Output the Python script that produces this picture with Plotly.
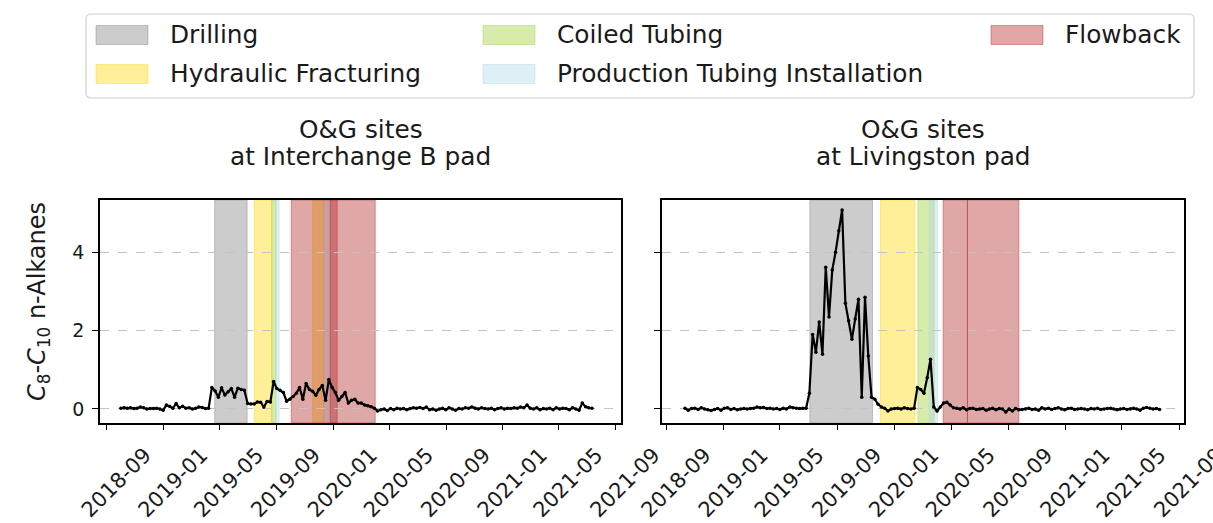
import pandas as pd
import plotly.graph_objects as go

W, H = 1213, 523
FONT = "DejaVu Sans"

# ---- measured series (weekly samples) ----
interchange_start = "2018-10-01"
interchange_vals = [
    0.02, 0.03, 0.02, 0.03, 0.01, 0.02, 0.05, 0.03, 0.0, 0.01,
    0.01, 0.02, 0.0, -0.03, 0.10, 0.07, 0.02, 0.14, 0.03, 0.07,
    0.02, 0.03, 0.0, 0.02, 0.05, 0.04, 0.01, 0.02,
    0.55, 0.46, 0.30, 0.54, 0.36, 0.44, 0.52, 0.30, 0.53, 0.50, 0.48,
    0.14, 0.13, 0.13, 0.18, 0.17, 0.05, 0.19, 0.18,
    0.70, 0.52, 0.48, 0.42, 0.20, 0.25, 0.32, 0.40, 0.55, 0.25,
    0.65, 0.50, 0.45, 0.35, 0.50, 0.60, 0.22, 0.75, 0.55, 0.42,
    0.22, 0.32, 0.42, 0.15, 0.22, 0.25, 0.15, 0.15, 0.10, 0.08,
    0.06, 0.02,
    -0.05, -0.02, 0.0, -0.04, 0.01, -0.02, 0.02, 0.0, 0.01, -0.02,
    0.01, 0.03, 0.02, 0.04, 0.01, 0.05, -0.02, 0.0, -0.03, 0.0,
    0.02, -0.02, 0.03, 0.0, -0.03, 0.01, 0.0, 0.03, 0.02, 0.05,
    0.02, 0.0, 0.03, 0.01, 0.0, 0.02, -0.02, 0.01, 0.03, 0.0,
    0.02, 0.01, 0.03, 0.02, 0.05, 0.03, 0.10, 0.02, 0.0, 0.03,
    -0.02, 0.01, 0.0, 0.02, -0.02, 0.03, 0.0, 0.02, 0.01, -0.02,
    0.03, 0.0, -0.03, 0.15, 0.06, 0.03, 0.02,
]

livingston_start = "2018-10-10"
livingston_vals = [
    0.02, -0.03, 0.01, 0.02, -0.01, 0.03, 0.0, -0.02, -0.04, -0.01,
    0.01, -0.03, 0.02, 0.03, -0.01, 0.01, -0.02, 0.0, 0.01, 0.0,
    0.01, 0.02, 0.05, 0.03, 0.04, 0.01, 0.02, 0.0, 0.01, -0.01,
    0.02, 0.0, 0.05, 0.03, 0.02, 0.01, 0.02,
    0.02, 0.40, 1.90, 1.45, 2.22, 1.40, 3.62, 2.35, 3.55, 4.00,
    4.55, 5.08, 2.70, 2.25, 1.78, 2.30, 2.80, 0.30, 2.85, 1.35,
    0.30, 0.25, 0.12, 0.05, 0.02, -0.05, 0.0, 0.01, 0.02, 0.0,
    0.03, 0.01, 0.0, 0.02, 0.55, 0.50, 0.40, 0.80, 1.27, 0.05,
    -0.05, 0.05, 0.15, 0.17, 0.10, 0.03,
    0.02, 0.0, 0.03, -0.02, 0.01, 0.02, -0.01, 0.0, 0.01, -0.03,
    0.0, 0.02, -0.02, 0.01, 0.0, -0.08, 0.0, -0.05, 0.01, -0.02,
    -0.01, 0.0, 0.02, -0.01, 0.0, -0.03, 0.03, 0.0, 0.02, -0.01,
    0.01, 0.03, 0.0, -0.02, 0.01, 0.02, -0.01, 0.0, 0.01, 0.0,
    -0.02, 0.01, 0.0, 0.02, -0.01, 0.0, 0.01, 0.02, 0.0, -0.02,
    0.0, 0.01, -0.01, 0.0, 0.02, 0.0, -0.03, 0.02, 0.04, 0.02,
    0.0, 0.01, -0.01,
]

# ---- activity periods ----
phase_names = ["Drilling", "Hydraulic Fracturing", "Coiled Tubing",
               "Production Tubing Installation", "Flowback"]
phase_rgb = {
    "Drilling": (128, 128, 128),
    "Hydraulic Fracturing": (255, 215, 0),
    "Coiled Tubing": (154, 205, 50),
    "Production Tubing Installation": (173, 216, 230),
    "Flowback": (178, 34, 34),
}
PHASE_ALPHA = 0.4

interchange_phases = [
    ("Drilling", "2019-04-21", "2019-06-30"),
    ("Hydraulic Fracturing", "2019-07-15", "2019-08-22"),
    ("Hydraulic Fracturing", "2019-11-18", "2019-12-12"),
    ("Coiled Tubing", "2019-08-22", "2019-08-31"),
    ("Production Tubing Installation", "2019-08-31", "2019-09-07"),
    ("Production Tubing Installation", "2019-12-12", "2019-12-26"),
    ("Flowback", "2019-10-03", "2020-01-10"),
    ("Flowback", "2019-12-26", "2020-04-01"),
]
livingston_phases = [
    ("Drilling", "2019-07-04", "2019-11-15"),
    ("Hydraulic Fracturing", "2019-12-02", "2020-02-14"),
    ("Coiled Tubing", "2020-02-20", "2020-03-26"),
    ("Production Tubing Installation", "2020-03-15", "2020-04-02"),
    ("Flowback", "2020-04-14", "2020-06-05"),
    ("Flowback", "2020-06-05", "2020-09-23"),
]

panel_titles = ["O&G sites<br>at Interchange B pad", "O&G sites<br>at Livingston pad"]
y_label = "<i>C</i><sub>8</sub>-<i>C</i><sub>10</sub> n-Alkanes"

x_tickvals = ["2018-09-01", "2019-01-01", "2019-05-01", "2019-09-01", "2020-01-01",
              "2020-05-01", "2020-09-01", "2021-01-01", "2021-05-01", "2021-09-01"]
x_ticktext = ["2018-09", "2019-01", "2019-05", "2019-09", "2020-01",
              "2020-05", "2020-09", "2021-01", "2021-05", "2021-09"]
y_tickvals = [0, 2, 4]

x_ranges = [["2018-08-17", "2021-09-12 10:00"], ["2018-08-21 07:00", "2021-09-11"]]
y_range = [-0.35, 5.335]


def px_x(p):
    return p / W


def px_y(p):
    return 1 - p / H


def rgba(name, a=PHASE_ALPHA):
    r, g, b = phase_rgb[name]
    return f"rgba({r},{g},{b},{a})"


fig = go.Figure()

series = [
    (interchange_start, interchange_vals, "x", "y"),
    (livingston_start, livingston_vals, "x2", "y2"),
]
for start, vals, xa, ya in series:
    dates = pd.date_range(start, periods=len(vals), freq="7D")
    fig.add_trace(go.Scatter(
        x=dates, y=vals, xaxis=xa, yaxis=ya, mode="lines+markers",
        line=dict(color="black", width=2.2),
        marker=dict(color="black", size=3.5),
        showlegend=False, hoverinfo="skip",
    ))

shapes = []
for phases, xa, ya in [(interchange_phases, "x", "y"), (livingston_phases, "x2", "y2")]:
    for name, d0, d1 in phases:
        shapes.append(dict(
            type="rect", xref=xa, yref=f"{ya} domain", x0=d0, x1=d1, y0=0, y1=1,
            fillcolor=rgba(name), line=dict(color=rgba(name), width=1),
            layer="below",
        ))

# legend frame with rounded corners
lx0, lx1, ly0, ly1, rad = 86, 1194, 14, 98, 5
path = (
    f"M {px_x(lx0 + rad)} {px_y(ly0)} L {px_x(lx1 - rad)} {px_y(ly0)} "
    f"Q {px_x(lx1)} {px_y(ly0)} {px_x(lx1)} {px_y(ly0 + rad)} "
    f"L {px_x(lx1)} {px_y(ly1 - rad)} Q {px_x(lx1)} {px_y(ly1)} {px_x(lx1 - rad)} {px_y(ly1)} "
    f"L {px_x(lx0 + rad)} {px_y(ly1)} Q {px_x(lx0)} {px_y(ly1)} {px_x(lx0)} {px_y(ly1 - rad)} "
    f"L {px_x(lx0)} {px_y(ly0 + rad)} Q {px_x(lx0)} {px_y(ly0)} {px_x(lx0 + rad)} {px_y(ly0)} Z"
)
shapes.append(dict(type="path", xref="paper", yref="paper", path=path,
                   fillcolor="white", line=dict(color="#d0d0d0", width=1.2)))

annotations = []
legend_slots = {
    "Drilling": (96, 35),
    "Hydraulic Fracturing": (96, 74),
    "Coiled Tubing": (483, 35),
    "Production Tubing Installation": (483, 74),
    "Flowback": (991, 35),
}
for name in phase_names:
    px0, cy = legend_slots[name]
    shapes.append(dict(
        type="rect", xref="paper", yref="paper",
        x0=px_x(px0), x1=px_x(px0 + 52), y0=px_y(cy - 9.5), y1=px_y(cy + 9.5),
        fillcolor=rgba(name), line=dict(color=rgba(name), width=1),
    ))
    annotations.append(dict(
        x=px_x(px0 + 72), y=px_y(cy), xref="paper", yref="paper",
        text=name, showarrow=False, xanchor="left", yanchor="middle",
        font=dict(family=FONT, size=24.8, color="#1a1a1a"),
    ))

# panel titles, one annotation per line
for title, cx in zip(panel_titles, [360.5, 923]):
    l1, l2 = title.split("<br>")
    for line, cy in [(l1, 129), (l2, 156)]:
        annotations.append(dict(
            x=px_x(cx), y=px_y(cy), xref="paper", yref="paper", text=line,
            showarrow=False, xanchor="center", yanchor="middle",
            font=dict(family=FONT, size=24.8, color="#1a1a1a"),
        ))

annotations.append(dict(
    x=px_x(38), y=px_y(302), xref="paper", yref="paper", text=y_label,
    showarrow=False, textangle=-90, xanchor="center", yanchor="middle",
    font=dict(family=FONT, size=24, color="#1a1a1a"),
))

x_domains = [[px_x(100), px_x(621)], [px_x(661.7), px_x(1184)]]
y_domain = [px_y(422.7), px_y(200)]

axis_common = dict(
    showline=True, linecolor="black", linewidth=1.5, mirror=True,
    ticks="outside", ticklen=6, tickwidth=1.4, tickcolor="black",
    zeroline=False, automargin=False,
)

layout = dict(
    width=W, height=H, margin=dict(l=0, r=0, t=0, b=0, autoexpand=False),
    plot_bgcolor="white", paper_bgcolor="white",
    shapes=shapes, annotations=annotations, showlegend=False,
)
for k, (dom, rng) in enumerate(zip(x_domains, x_ranges)):
    suffix = "" if k == 0 else str(k + 1)
    layout[f"xaxis{suffix}"] = dict(
        domain=dom, range=rng, type="date", anchor=f"y{suffix}",
        tickvals=x_tickvals, ticktext=x_ticktext, tickangle=-45,
        tickfont=dict(family=FONT, size=21, color="#1a1a1a"),
        showgrid=False, ticklabelshift=38, ticklabelstandoff=4,
        ticklabeloverflow="allow", **axis_common,
    )
    layout[f"yaxis{suffix}"] = dict(
        domain=y_domain, range=y_range, anchor=f"x{suffix}",
        tickvals=y_tickvals, tickfont=dict(family=FONT, size=19, color="#1a1a1a"),
        showticklabels=(k == 0), ticklabelstandoff=4,
        showgrid=True, gridcolor="#c4c4c4", gridwidth=1, griddash="dash",
        **axis_common,
    )

fig.update_layout(**layout)
fig.write_html("out.html")
